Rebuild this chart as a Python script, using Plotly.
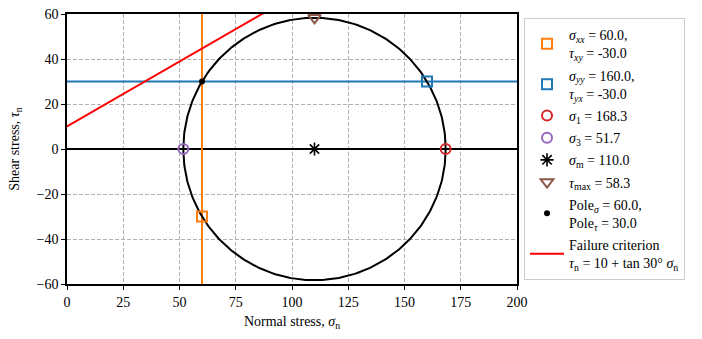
import numpy as np
import plotly.graph_objects as go

# Stress state (2D)
sigma_xx, tau_xy = 60.0, -30.0
sigma_yy, tau_yx = 160.0, -30.0
sigma_1, sigma_3 = 168.3, 51.7
sigma_m = 110.0
tau_max = 58.3
pole_sigma, pole_tau = 60.0, 30.0

# Mohr-Coulomb failure criterion: tau = c + tan(phi) * sigma
cohesion = 10.0
phi_deg = 30.0

x_range = [0, 200]
y_range = [-60, 60]
x_ticks = [0, 25, 50, 75, 100, 125, 150, 175, 200]
y_ticks = [-60, -40, -20, 0, 20, 40, 60]
y_ticktext = ["−60", "−40", "−20", "0", "20", "40", "60"]

C_ORANGE = "#ff7f0e"
C_BLUE = "#1f77b4"
C_RED = "#d62728"
C_PURPLE = "#9467bd"
C_BROWN = "#8c564b"

FONT = "Liberation Serif"
FS = 14

fig = go.Figure()

# reference lines through the pole
fig.add_trace(go.Scatter(x=[sigma_xx, sigma_xx], y=y_range, mode="lines",
                         line=dict(color=C_ORANGE, width=2), showlegend=False, hoverinfo="skip"))
fig.add_trace(go.Scatter(x=x_range, y=[pole_tau, pole_tau], mode="lines",
                         line=dict(color=C_BLUE, width=2), showlegend=False, hoverinfo="skip"))

# Mohr circle
theta = np.linspace(0, 2 * np.pi, 400)
fig.add_trace(go.Scatter(x=sigma_m + tau_max * np.cos(theta), y=tau_max * np.sin(theta),
                         mode="lines", line=dict(color="black", width=2),
                         showlegend=False, hoverinfo="skip"))

# failure envelope
fx = np.array(x_range, dtype=float)
fy = cohesion + np.tan(np.radians(phi_deg)) * fx

# legend-bearing markers (one legend group each so tracegroupgap spaces them)
fig.add_trace(go.Scatter(x=[sigma_xx], y=[tau_xy], mode="markers", legendgroup="a",
                         marker=dict(symbol="square-open", size=10, color=C_ORANGE, line=dict(width=2)),
                         name="<i>σ<sub>xx</sub></i> = 60.0,<br><i>τ<sub>xy</sub></i> = -30.0"))
fig.add_trace(go.Scatter(x=[sigma_yy], y=[pole_tau], mode="markers", legendgroup="b",
                         marker=dict(symbol="square-open", size=10, color=C_BLUE, line=dict(width=2)),
                         name="<i>σ<sub>yy</sub></i> = 160.0,<br><i>τ<sub>yx</sub></i> = -30.0"))
fig.add_trace(go.Scatter(x=[sigma_1], y=[0], mode="markers", legendgroup="c",
                         marker=dict(symbol="circle-open", size=10, color=C_RED, line=dict(width=2)),
                         name="<i>σ</i><sub>1</sub> = 168.3"))
fig.add_trace(go.Scatter(x=[sigma_3], y=[0], mode="markers", legendgroup="d",
                         marker=dict(symbol="circle-open", size=10, color=C_PURPLE, line=dict(width=2)),
                         name="<i>σ</i><sub>3</sub> = 51.7"))
fig.add_trace(go.Scatter(x=[sigma_m], y=[0], mode="markers", legendgroup="e",
                         marker=dict(symbol="asterisk-open", size=11, color="black", line=dict(width=1.6, color="black")),
                         name="<i>σ</i><sub>m</sub> = 110.0"))
fig.add_trace(go.Scatter(x=[sigma_m], y=[tau_max], mode="markers", legendgroup="f",
                         marker=dict(symbol="triangle-down-open", size=11, color=C_BROWN, line=dict(width=2)),
                         name="<i>τ</i><sub>max</sub> = 58.3"))
fig.add_trace(go.Scatter(x=[pole_sigma], y=[pole_tau], mode="markers", legendgroup="g",
                         marker=dict(symbol="circle", size=6, color="black"),
                         name="Pole<sub><i>σ</i></sub> = 60.0,<br>Pole<sub><i>τ</i></sub> = 30.0"))
fig.add_trace(go.Scatter(x=fx, y=fy, mode="lines", line=dict(color="#ff0000", width=2), legendgroup="h",
                         name="Failure criterion<br><i>τ</i><sub>n</sub> = 10 + tan 30° <i>σ</i><sub>n</sub>"))

axis_common = dict(showline=True, linecolor="black", linewidth=1.6, mirror=True,
                   ticks="outside", ticklen=4, tickcolor="black", tickwidth=1,
                   showgrid=True, gridcolor="#b0b0b0", griddash="4px,2px", gridwidth=1,
                   automargin=False,
                   tickfont=dict(family=FONT, size=FS, color="black"))

fig.update_xaxes(range=x_range, tickvals=x_ticks, zeroline=False,
                 title=dict(text="Normal stress, <i>σ</i><sub>n</sub>", font=dict(family=FONT, size=FS, color="black"),
                            standoff=8),
                 **axis_common)
fig.update_yaxes(range=y_range, tickvals=y_ticks, ticktext=y_ticktext,
                 zeroline=True, zerolinecolor="black", zerolinewidth=2,
                 title=dict(text="Shear stress, <i>τ</i><sub>n</sub>", font=dict(family=FONT, size=FS, color="black"),
                            standoff=14),
                 **axis_common)

fig.update_layout(
    width=702, height=339,
    margin=dict(l=67, r=185, t=14, b=55),
    paper_bgcolor="white", plot_bgcolor="white",
    font=dict(family=FONT, size=FS, color="black"),
    legend=dict(x=1.0156, y=0.985, xanchor="left", yanchor="top",
                bgcolor="white", bordercolor="#cccccc", borderwidth=1,
                font=dict(family=FONT, size=FS, color="black"),
                tracegroupgap=1, itemwidth=34),
)

fig.write_html("out.html")
